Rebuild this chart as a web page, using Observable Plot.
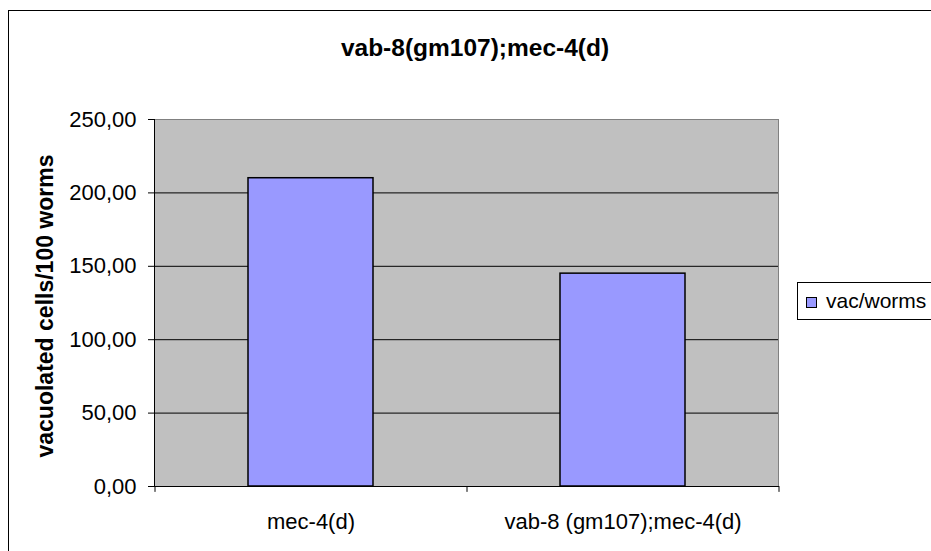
<!DOCTYPE html>
<html>
<head>
<meta charset="utf-8">
<script src="https://cdn.jsdelivr.net/npm/d3@7"></script>
<script src="https://cdn.jsdelivr.net/npm/@observablehq/plot@0.6"></script>
<style>
  html, body { margin: 0; padding: 0; background: #fff; overflow: hidden; }
  #wrap { position: relative; width: 931px; height: 551px; overflow: hidden; font-family: "Liberation Sans", Arial, sans-serif; }
  #border { position: absolute; left: 8px; top: 10px; width: 960px; height: 600px; border: 1.5px solid #000; box-sizing: border-box; }
  #title { position: absolute; left: 0; width: 950px; top: 34px; text-align: center; font-weight: bold; font-size: 24.5px; line-height: 28px; color: #000; }
  #chart { position: absolute; left: 0; top: 0; }
  #legend { position: absolute; left: 797px; top: 282px; width: 160px; height: 38px; border: 1px solid #000; box-sizing: border-box; background: #fff; }
  #legend .sw { position: absolute; left: 8px; top: 14px; width: 11px; height: 11px; background: #9999ff; border: 1px solid #000; box-sizing: border-box; }
  #legend .lb { position: absolute; left: 28px; top: 5px; font-size: 21px; line-height: 25px; color: #000; }
</style>
</head>
<body>
<div id="wrap">
  <div id="border"></div>
  <div id="chart"></div>
  <div id="title"></div>
  <div id="legend"><div class="sw"></div><div class="lb"></div></div>
</div>
<script>
const titleText = "vab-8(gm107);mec-4(d)";
const yLabel = "vacuolated cells/100 worms";
const seriesName = "vac/worms";
const categories = ["mec-4(d)", "vab-8 (gm107);mec-4(d)"];
const values = [210, 145];
const yTicks = [0, 50, 100, 150, 200, 250];

document.getElementById("title").textContent = titleText;
document.querySelector("#legend .lb").textContent = seriesName;

const data = categories.map((c, i) => ({cat: c, value: values[i]}));
const W = 931, H = 551, mL = 154, mR = 153, mT = 119, mB = 65;
const step = (W - mL - mR) / categories.length;
const fmt = d => d.toFixed(2).replace(".", ",");

const chart = Plot.plot({
  width: W,
  height: H,
  marginLeft: mL,
  marginRight: mR,
  marginTop: mT,
  marginBottom: mB,
  style: {fontFamily: "'Liberation Sans', Arial, sans-serif", fontSize: "22px", color: "#000", background: "transparent", overflow: "visible"},
  x: {domain: categories, paddingInner: 0.6, paddingOuter: 0.3, label: null},
  y: {domain: [0, 250], label: null},
  marks: [
    Plot.frame({fill: "#c0c0c0", stroke: "#808080"}),
    Plot.ruleY(yTicks.slice(1, -1), {stroke: "#000", strokeWidth: 1}),
    Plot.barY(data, {x: "cat", y: "value", fill: "#9999ff", stroke: "#000", strokeWidth: 1.5}),
    Plot.frame({anchor: "left", stroke: "#000"}),
    Plot.frame({anchor: "bottom", stroke: "#000"}),
    Plot.ruleX(categories, {x: d => d, y1: 0, y2: -4, dx: -step / 2, stroke: "#000"}),
    Plot.ruleX(categories.slice(-1), {x: d => d, y1: 0, y2: -4, dx: step / 2, stroke: "#000"}),
    Plot.axisY({ticks: yTicks, tickFormat: fmt, tickSize: 6, tickPadding: 12, fontSize: 22, label: null}),
    Plot.axisX({tickSize: 0, tickPadding: 27, fontSize: 22, label: null}),
    Plot.text([yLabel], {frameAnchor: "left", dx: -109, dy: 3, rotate: -90, text: d => d, fontWeight: "bold", fontSize: 23, textAnchor: "middle", lineAnchor: "middle", fill: "#000"})
  ]
});
document.getElementById("chart").appendChild(chart);
</script>
</body>
</html>
